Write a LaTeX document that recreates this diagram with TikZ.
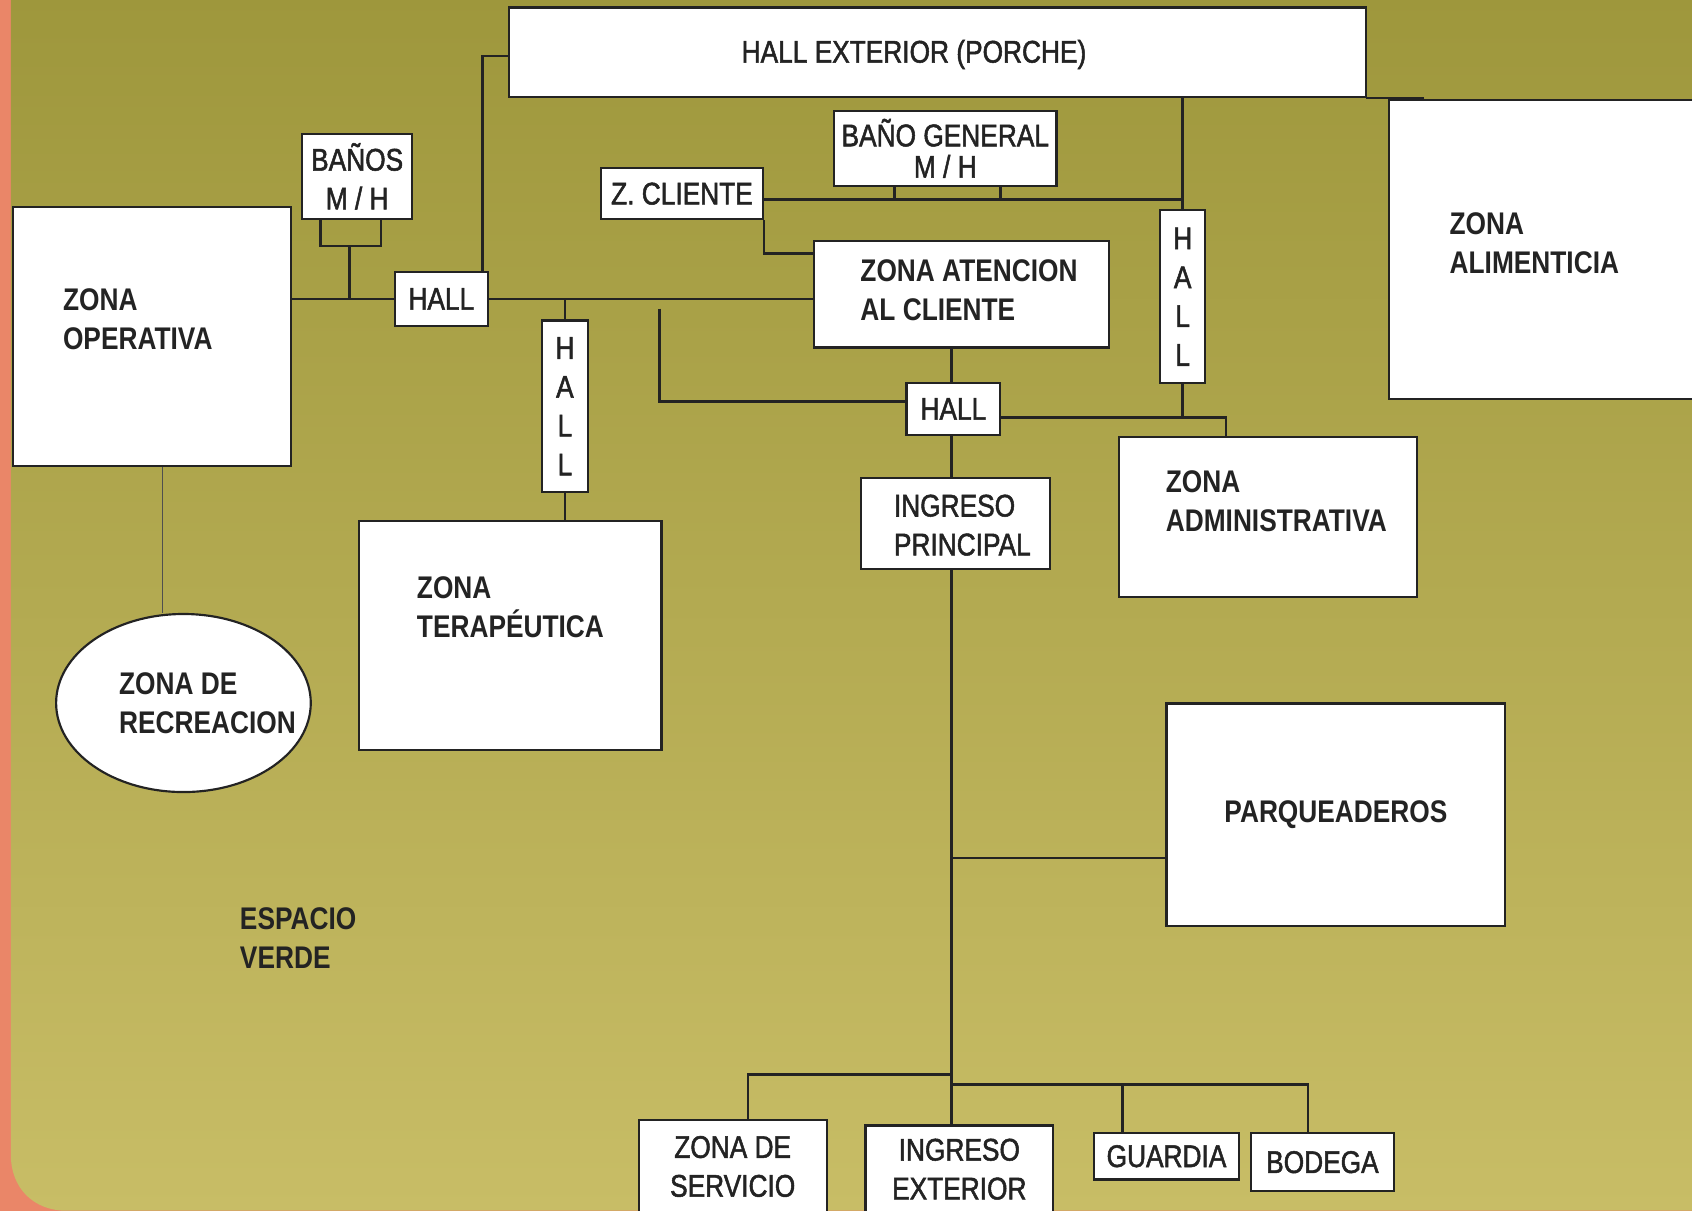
\documentclass[tikz,border=0pt]{standalone}
\usepackage{fontspec}
\setmainfont{Liberation Sans}[FakeStretch=0.84]
\newfontfamily\medfont{Liberation Sans}[FakeStretch=0.84, FakeBold=1.6]
\usetikzlibrary{shapes.geometric}
\definecolor{olivetop}{RGB}{158,151,60}
\definecolor{olivebot}{RGB}{200,189,102}
\definecolor{salmon}{RGB}{234,134,104}
\definecolor{ink}{RGB}{35,35,35}
\newcommand\zbox[6]{\node[zb, minimum width={(#4-#2)*0.5}, minimum height={(#5-#3)*0.5}] (#1) at ({(#2+#4)/2},{(#3+#5)/2}) {#6};}
\begin{document}
\begin{tikzpicture}[x=0.5pt,y=-0.5pt,
  zb/.style={draw=ink, fill=white, line width=1pt, inner sep=0pt, font=\fontsize{14.5}{18}\selectfont\medfont, text=ink, align=center},
  lbl/.style={inner sep=0pt, anchor=north west, align=left, font=\fontsize{14.5}{18}\selectfont\bfseries, text=ink},
  ln/.style={draw=ink, line width=1.2pt},
  thinln/.style={draw=ink!80, line width=0.5pt}]
\useasboundingbox (0,0) rectangle (1568,1122);
\clip (0,0) rectangle (1568,1122);
% background
\fill[salmon] (0,0) rectangle (1568,1122);
\shade[top color=olivetop, bottom color=olivebot] (10,-5) -- (1575,-5) -- (1575,1122) -- (62,1122) .. controls (30,1122) and (10,1100) .. (10,1070) -- cycle;

% junction coordinates
\coordinate (bq1) at (297,228);
\coordinate (bq2) at (353,228);
\coordinate (bqm) at (324,228);
\coordinate (pk) at (447,52);
\coordinate (lq) at (611,286);
\coordinate (lq2) at (611,372);
\coordinate (zq) at (1097,185);
\coordinate (bg1) at (829,185);
\coordinate (bg2) at (927,185);
\coordinate (zc2) at (708,235);
\coordinate (ad1) at (1136,387);
\coordinate (pq) at (882,795);
\coordinate (sv) at (693,996);
\coordinate (gb) at (1212,1005);
\coordinate (gd) at (1040,1005);
\coordinate (oe) at (151,440);
\coordinate (pe) at (1320,91);

\draw[ln] (pe) -- (1266,91);

% boxes
\zbox{porche}{472}{7}{1266}{90}{}
\zbox{alim}{1287}{93}{1600}{370}{}
\zbox{banos}{280}{124}{382}{203}{BAÑOS\\M / H}
\zbox{op}{12}{192}{270}{432}{}
\zbox{hallL}{366}{252}{452}{302}{HALL}
\zbox{zcli}{557}{156}{707}{203}{Z. CLIENTE}
\zbox{banog}{773}{103}{979}{172}{BAÑO GENERAL\\[-3.5pt]M / H}
\zbox{aten}{754}{223}{1028}{322}{}
\zbox{hallR}{1075}{195}{1117}{355}{H\\A\\L\\L}
\zbox{hallM}{502}{297}{545}{456}{H\\A\\L\\L}
\zbox{hallC}{840}{355}{927}{403}{HALL}
\zbox{ingP}{798}{443}{973}{527}{}
\zbox{admin}{1037}{405}{1313}{553}{}
\zbox{terap}{333}{483}{613}{695}{}
\zbox{parq}{1081}{652}{1395}{858}{\normalfont\bfseries PARQUEADEROS}
\zbox{serv}{592}{1038}{766}{1124}{ZONA DE\\SERVICIO}
\zbox{ingE}{802}{1043}{976}{1124}{INGRESO\\EXTERIOR}
\zbox{guard}{1014}{1050}{1148}{1093}{GUARDIA}
\zbox{bod}{1159}{1050}{1292}{1104}{BODEGA}
\node[draw=ink, fill=white, line width=1pt, ellipse, inner sep=0pt, minimum width=118pt, minimum height=82.5pt] (rec) at (170,651.5) {};

% labels
\node[lbl, anchor=base, font=\fontsize{14.5}{18}\selectfont\medfont] (porT) at (847,58) {HALL EXTERIOR (PORCHE)};
\node[lbl] (opT) at (58,267) {ZONA\\OPERATIVA};
\node[lbl] (alimT) at (1343,197) {ZONA\\ALIMENTICIA};
\node[lbl] (atenT) at (797,240) {ZONA ATENCION\\AL CLIENTE};
\node[lbl] (adminT) at (1080,436) {ZONA\\ADMINISTRATIVA};
\node[lbl, font=\fontsize{14.5}{18}\selectfont\medfont] (ingPT) at (828,458) {INGRESO\\PRINCIPAL};
\node[lbl] (terapT) at (386,534) {ZONA\\TERAPÉUTICA};
\node[lbl] (recT) at (110,623) {ZONA DE\\RECREACION};
\node[lbl] (espT) at (222,841) {ESPACIO\\VERDE};

% connectors
\draw[ln] (hallL.west -| op.east) -- (hallL.west);
\draw[ln] (banos.south -| bq1) -- (bq1) -- (bq2) -- (banos.south -| bq2);
\draw[ln] (bqm) -- (bqm |- hallL.west);
\draw[ln] (pk |- hallL.north) -- (pk) -- (pk -| porche.west);
\draw[ln] (hallL.east) -- (hallL.east -| aten.west);
\draw[ln] (hallM.north) -- (hallM.north |- hallL.east);
\draw[ln] (hallM.south) -- (hallM.south |- terap.north);
\draw[ln] (lq) -- (lq2) -- (lq2 -| hallC.west);
\draw[ln] (zq -| zcli.east) -- (zq);
\draw[ln] (bg1) -- (bg1 |- banog.south);
\draw[ln] (bg2) -- (bg2 |- banog.south);
\draw[ln] (zc2 |- zcli.south) -- (zc2) -- (zc2 -| aten.west);
\draw[ln] (hallR.north |- porche.south) -- (hallR.north);
\draw[ln] (hallR.south) -- (hallR.south |- ad1);
\draw[ln] (hallC.east |- ad1) -- (ad1) -- (ad1 |- admin.north);
\draw[ln] (pq |- aten.south) -- (pq |- hallC.north);
\draw[ln] (pq |- hallC.south) -- (pq |- ingP.north);
\draw[ln] (pq |- ingP.south) -- (pq |- ingE.north);
\draw[ln] (pq) -- (pq -| parq.west);
\draw[ln] (sv -| pq) -- (sv) -- (sv |- serv.north);
\draw[ln] (gb -| pq) -- (gb) -- (gb |- bod.north);
\draw[ln] (gd) -- (gd |- guard.north);
\draw[thinln] (oe |- op.south) -- (oe |- rec.north);
\end{tikzpicture}
\end{document}
